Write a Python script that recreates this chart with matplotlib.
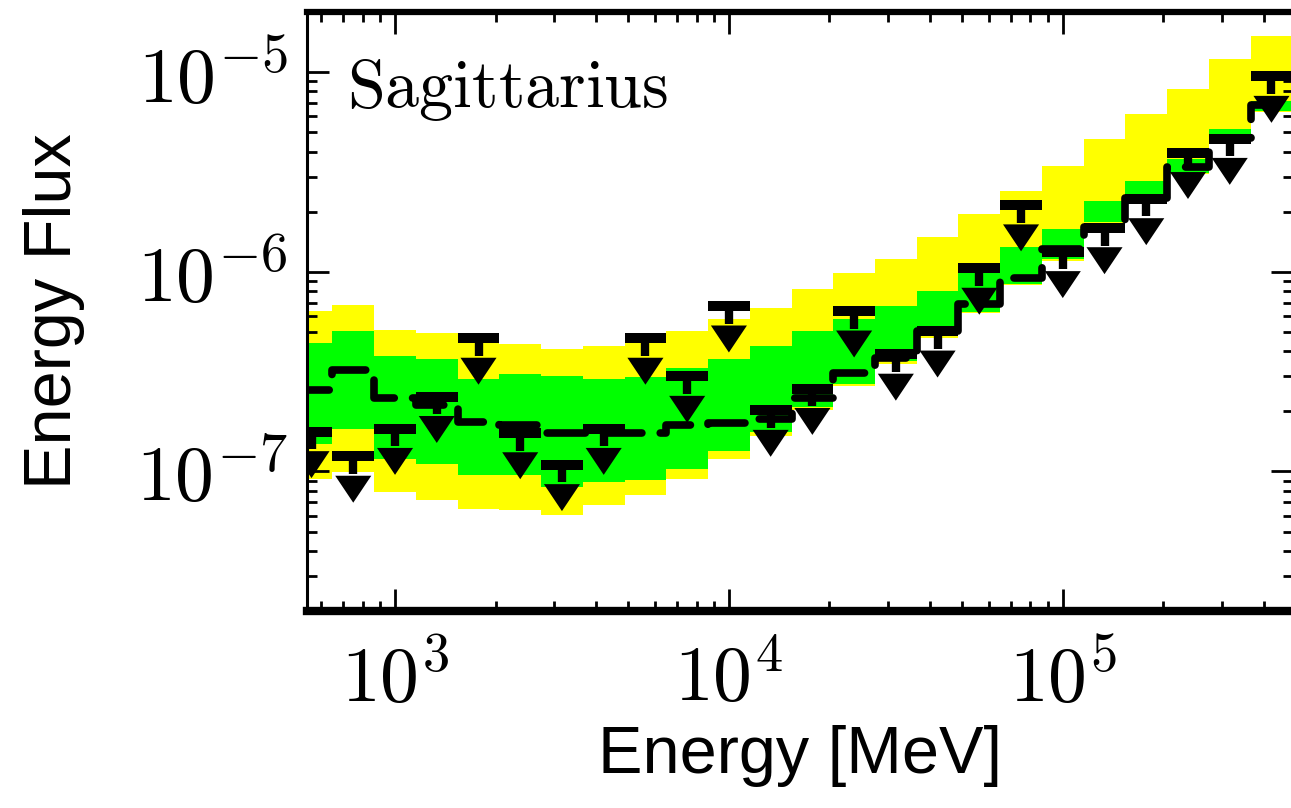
import numpy as np
import matplotlib
matplotlib.use("Agg")
import matplotlib.pyplot as plt
from matplotlib.ticker import LogLocator, NullFormatter

plt.rcParams['mathtext.fontset'] = 'cm'

# ---------------- data ----------------
bin_edges_mev = [487, 649, 866, 1155, 1540, 2054, 2738, 3652, 4870, 6494, 8660,
                 11548, 15399, 20535, 27384, 36517, 48697, 64938, 86596, 115478,
                 153993, 205353, 273842, 365174, 486968]

upper_limits = [1.58e-7, 1.19e-7, 1.64e-7, 2.37e-7, 4.64e-7, 1.56e-7, 1.08e-7, 1.64e-7,
                4.64e-7, 2.99e-7, 6.73e-7, 2.02e-7, 2.60e-7, 6.35e-7, 3.86e-7, 5.04e-7,
                1.04e-6, 2.16e-6, 1.26e-6, 1.66e-6, 2.32e-6, 3.95e-6, 4.65e-6, 9.51e-6]

expected_median = [2.57e-7, 3.21e-7, 2.32e-7, 2.16e-7, 1.76e-7, 1.70e-7, 1.55e-7, 1.55e-7,
                   1.56e-7, 1.70e-7, 1.74e-7, 1.84e-7, 2.32e-7, 3.13e-7, 3.72e-7, 5.04e-7,
                   6.89e-7, 9.29e-7, 1.30e-6, 1.68e-6, 2.35e-6, 3.36e-6, 4.70e-6, 6.81e-6]

band95_high = [6.35e-7, 6.81e-7, 5.09e-7, 4.92e-7, 4.43e-7, 4.33e-7, 4.09e-7, 4.23e-7,
               4.86e-7, 5.04e-7, 5.78e-7, 6.58e-7, 8.19e-7, 9.85e-7, 1.16e-6, 1.49e-6,
               1.95e-6, 2.54e-6, 3.40e-6, 4.65e-6, 6.20e-6, 8.19e-6, 1.17e-5, 1.51e-5]

band68_high = [4.38e-7, 5.04e-7, 3.77e-7, 3.64e-7, 2.89e-7, 3.06e-7, 2.99e-7, 2.92e-7,
               2.96e-7, 3.28e-7, 3.64e-7, 4.23e-7, 5.04e-7, 5.78e-7, 6.73e-7, 8.00e-7,
               1.03e-6, 1.33e-6, 1.64e-6, 2.26e-6, 2.86e-6, 3.68e-6, 5.21e-6, 7.21e-6]

band68_low = [1.38e-7, 1.64e-7, 1.16e-7, 1.09e-7, 9.62e-8, 9.62e-8, 8.38e-8, 8.88e-8,
              9.08e-8, 1.03e-7, 1.26e-7, 1.58e-7, 2.11e-7, 2.73e-7, 3.56e-7, 4.75e-7,
              6.27e-7, 8.68e-7, 1.16e-6, 1.78e-6, 2.40e-6, 3.13e-6, 4.54e-6, 6.42e-6]

band95_low = [9.19e-8, 9.97e-8, 7.91e-8, 7.21e-8, 6.49e-8, 6.42e-8, 6.06e-8, 6.81e-8,
              7.64e-8, 9.19e-8, 1.16e-7, 1.51e-7, 2.04e-7, 2.67e-7, 3.44e-7, 4.64e-7,
              6.20e-7, 8.58e-7, 1.13e-6, 1.76e-6, 2.37e-6, 3.10e-6, 4.49e-6, 6.35e-6]

x_ticks = [1e3, 1e4, 1e5]
x_tick_labels = [r'$10^{3}$', r'$10^{4}$', r'$10^{5}$']
y_ticks = [1e-7, 1e-6, 1e-5]
y_tick_labels = [r'$10^{-7}$', r'$10^{-6}$', r'$10^{-5}$']
source_name = 'Sagittarius'
x_label = 'Energy [MeV]'
y_label = 'Energy Flux'

# ---------------- style ----------------
YELLOW = '#ffff00'
GREEN = '#00ff00'
ARROW_LEN_DEC = 0.232      # bar -> tip, decades in y
HEAD_LEN_DEC = 0.135       # arrow head height, decades in y
HEAD_HALF_W_DEC = 0.054    # arrow head half width, decades in x

fig = plt.figure(figsize=(12.91, 8.08), dpi=100)
ax = fig.add_axes([0.2378, 0.2438, 0.7637, 0.7413])
ax.set_xscale('log')
ax.set_yscale('log')

edges = np.array(bin_edges_mev, dtype=float)
lo_e, hi_e = edges[:-1], edges[1:]
centers = np.sqrt(lo_e * hi_e)

def ext(a):
    a = list(a)
    return a + [a[-1]]

ax.fill_between(edges, ext(band95_low), ext(band95_high), step='post',
                color=YELLOW, lw=0, zorder=1)
ax.fill_between(edges, ext(band68_low), ext(band68_high), step='post',
                color=GREEN, lw=0, zorder=2)

ax.step(edges, ext(expected_median), where='post', color='black', lw=5.5,
        linestyle=(0, (5, 2.4)), dash_capstyle='round', solid_joinstyle='miter',
        zorder=3)

ul = np.array(upper_limits)
ax.hlines(ul, lo_e, hi_e, color='black', lw=7.2, zorder=4)
head_base = ul * 10 ** (-(ARROW_LEN_DEC - HEAD_LEN_DEC))
tip = ul * 10 ** (-ARROW_LEN_DEC)
ax.vlines(centers, head_base * 1.02, ul, color='black', lw=6.0, zorder=4)
for c, b, t in zip(centers, head_base, tip):
    xl = c * 10 ** (-HEAD_HALF_W_DEC)
    xr = c * 10 ** (HEAD_HALF_W_DEC)
    ax.fill([xl, xr, c], [b, b, t], color='black', lw=0, zorder=5)

ax.set_xlim(545, 4.89e5)
ax.set_ylim(2.0e-8, 2.0e-5)

ax.set_xticks(x_ticks)
ax.set_xticklabels(x_tick_labels)
ax.set_yticks(y_ticks)
ax.set_yticklabels(y_tick_labels)
ax.xaxis.set_minor_locator(LogLocator(base=10, subs=np.arange(2, 10)))
ax.yaxis.set_minor_locator(LogLocator(base=10, subs=np.arange(2, 10)))
ax.xaxis.set_minor_formatter(NullFormatter())
ax.yaxis.set_minor_formatter(NullFormatter())

ax.tick_params(which='both', direction='in', top=True, right=True, colors='black')
ax.tick_params(which='major', length=16, width=2.0, labelsize=56)
ax.tick_params(which='minor', length=7, width=2.0)
ax.tick_params(axis='x', which='major', pad=22)
ax.tick_params(axis='y', which='major', pad=14)

ax.spines['left'].set_linewidth(2.2)
ax.spines['bottom'].set_linewidth(6)
ax.spines['top'].set_linewidth(4.5)
ax.spines['right'].set_linewidth(2.2)
for s in ax.spines.values():
    s.set_zorder(6)

ax.set_xlabel(x_label, fontsize=48, family=['Liberation Sans', 'DejaVu Sans'])
ax.set_ylabel(y_label, fontsize=48, family=['Liberation Sans', 'DejaVu Sans'])
ax.xaxis.set_label_coords(0.5, -0.19)
ax.yaxis.set_label_coords(-0.225, 0.5)

ax.text(0.0406, 0.841, r'$\mathrm{' + source_name + '}$', transform=ax.transAxes,
        fontsize=49, ha='left', va='baseline', zorder=7)

fig.savefig('out.png', dpi=100)
